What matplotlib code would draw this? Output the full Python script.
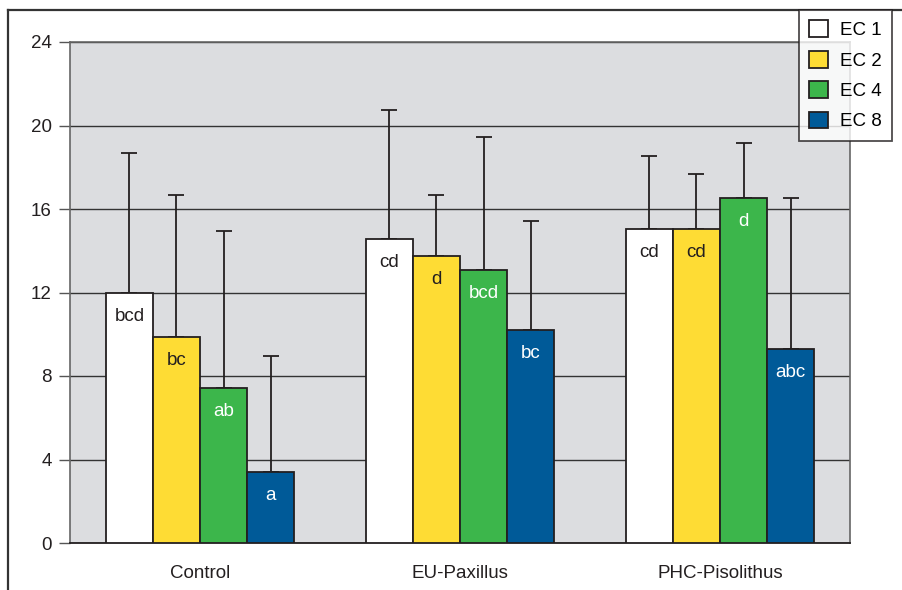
import numpy as np
import matplotlib.pyplot as plt
from matplotlib.lines import Line2D

plt.rcParams['font.family'] = ['Liberation Sans', 'DejaVu Sans']

groups = ["Control", "EU-Paxillus", "PHC-Pisolithus"]
series = ["EC 1", "EC 2", "EC 4", "EC 8"]

# bar heights per series (Control, EU-Paxillus, PHC-Pisolithus)
ec1 = [12.0, 14.56, 15.03]
ec2 = [9.87, 13.75, 15.03]
ec4 = [7.41, 13.06, 16.53]
ec8 = [3.39, 10.2, 9.31]

# top of the error bar
ec1_top = [18.67, 20.74, 18.54]
ec2_top = [16.69, 16.67, 17.69]
ec4_top = [14.93, 19.45, 19.15]
ec8_top = [8.94, 15.42, 16.53]

# letters of significance
ec1_lab = ["bcd", "cd", "cd"]
ec2_lab = ["bc", "d", "cd"]
ec4_lab = ["ab", "bcd", "d"]
ec8_lab = ["a", "bc", "abc"]

colors = ["#ffffff", "#fedc34", "#3cb64b", "#005a98"]
text_colors = ["#231f20", "#231f20", "#ffffff", "#ffffff"]

fig = plt.figure(figsize=(9.03, 5.9), dpi=100)
ax = fig.add_axes([70 / 903, 47 / 590, 780 / 903, 501 / 590])
ax.set_facecolor("#dcdde0")

# outer frame lines (top and left)
fig.add_artist(Line2D([8 / 903, 1.0], [580 / 590, 580 / 590],
                      color="#333333", lw=1.6, transform=fig.transFigure))
fig.add_artist(Line2D([8 / 903, 8 / 903], [0.0, 580 / 590],
                      color="#333333", lw=1.6, transform=fig.transFigure))

x = np.arange(len(groups))
w = 0.181
vals = [ec1, ec2, ec4, ec8]
tops = [ec1_top, ec2_top, ec4_top, ec8_top]
labs = [ec1_lab, ec2_lab, ec4_lab, ec8_lab]

for i in range(4):
    xs = x + (i - 1.5) * w
    h = np.array(vals[i])
    err = np.array(tops[i]) - h
    ax.errorbar(xs, h, yerr=[np.zeros_like(err), err], fmt="none",
                ecolor="#231f20", elinewidth=1.3, capsize=6, capthick=1.3, zorder=2)
    ax.bar(xs, h, width=w, color=colors[i], edgecolor="#231f20",
           linewidth=1.3, label=series[i], zorder=3)
    for xx, hh, lab in zip(xs, h, labs[i]):
        ax.text(xx, hh - 0.72, lab, ha="center", va="top", fontsize=13.5,
                color=text_colors[i], zorder=4)

ax.set_xlim(-0.5, 2.5)
ax.set_ylim(0, 24)
ax.set_yticks([0, 4, 8, 12, 16, 20, 24])
ax.yaxis.grid(True, color="#333333", lw=1.0)
ax.set_axisbelow(True)

ax.set_xticks(x)
ax.set_xticklabels(groups, fontsize=13.5, color="#231f20")
ax.tick_params(axis="x", length=0, pad=16)
ax.tick_params(axis="y", length=8, width=1.0, color="#555555",
               labelsize=13.5, labelcolor="#231f20", pad=5)

for s in ["left", "top", "right"]:
    ax.spines[s].set_color("#666666")
    ax.spines[s].set_linewidth(1.2)
ax.spines["bottom"].set_color("#231f20")
ax.spines["bottom"].set_linewidth(1.3)

leg = fig.legend(loc="upper left", bbox_to_anchor=(799 / 903, 580 / 590),
                 fontsize=13.5, frameon=True, fancybox=False,
                 handlelength=1.0, handleheight=1.0, handletextpad=0.65,
                 labelspacing=0.62, borderpad=0.55, borderaxespad=0)
leg.get_frame().set_edgecolor("#231f20")
leg.get_frame().set_linewidth(1.3)
for p in leg.get_patches():
    p.set_linewidth(1.3)

fig.savefig("out.png", dpi=100)
